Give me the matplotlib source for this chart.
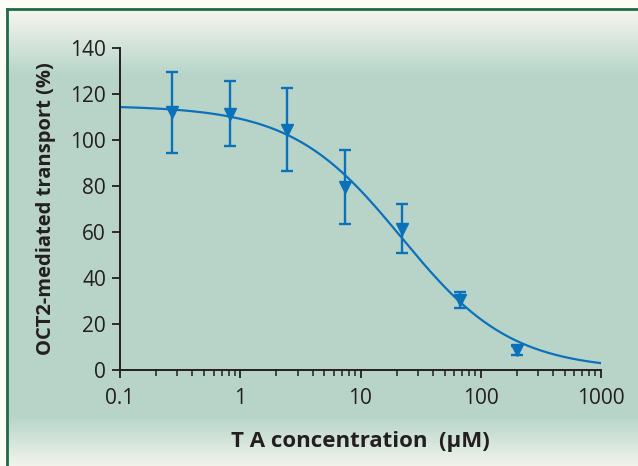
import numpy as np
import matplotlib
matplotlib.use('agg')
import matplotlib.pyplot as plt
from matplotlib.lines import Line2D

# measured points (3-fold dilutions of TA, uM)
conc = [0.27, 0.82, 2.47, 7.4, 22.2, 66.7, 200.0]
transport = [112.0, 111.5, 104.5, 79.5, 61.5, 30.5, 8.5]
err = [17.5, 14.0, 18.0, 16.0, 10.5, 3.5, 2.0]

# fitted dose-response curve parameters
fit_top = 115.0
fit_bottom = 0.0
fit_ic50 = 22.0
fit_hill = 0.95

xticks = [0.1, 1, 10, 100, 1000]
xticklabels = ['0.1', '1', '10', '100', '1000']
yticks = [0, 20, 40, 60, 80, 100, 120, 140]

BLUE = '#0b72b9'
INK = '#231f20'
FONT = ['Open Sans', 'DejaVu Sans']
plt.rcParams['font.family'] = FONT

fig = plt.figure(figsize=(6.38, 4.66), dpi=100, facecolor='#fdfdf6')

# panel background: gradient box with green frame (top and left visible)
x0 = 7 / 638
y1 = (466 - 9) / 466
bg = fig.add_axes([x0, -0.01, 1.02 - x0, y1 + 0.01])
bg.set_axis_off()
h = 462
rows = np.arange(h)
t = np.ones(h)
t[:65] = np.clip(rows[:65] / 65.0, 0, 1)
t[408:] = np.clip(1 - (rows[408:] - 408) / 52.0, 0, 1)
top_c = np.array([0.965, 0.965, 0.935])
mid_c = np.array([0.722, 0.835, 0.792])
grad = top_c[None, :] * (1 - t[:, None]) + mid_c[None, :] * t[:, None]
bg.imshow(grad[:, None, :], aspect='auto', extent=[0, 1, 0, 1], origin='upper')
bg.set_xlim(0, 1)
bg.set_ylim(0, 1)
fig.add_artist(Line2D([x0, 1.01], [y1, y1], color='#1f6b47', lw=2.0))
fig.add_artist(Line2D([x0, x0], [-0.01, y1], color='#1f6b47', lw=2.0))

ax = fig.add_axes([120 / 638, (466 - 370) / 466, 481 / 638, 322 / 466])
ax.patch.set_alpha(0)

xs = np.logspace(-1, 3, 300)
ys = fit_bottom + (fit_top - fit_bottom) / (1 + (xs / fit_ic50) ** fit_hill)
ax.plot(xs, ys, color=BLUE, lw=1.6, zorder=2)
ax.errorbar(conc, transport, yerr=err, fmt='v', color=BLUE, ms=8,
            elinewidth=1.7, capsize=4.5, capthick=1.7, zorder=3)

ax.set_xscale('log')
ax.set_xlim(0.1, 1000)
ax.set_ylim(0, 140)
ax.set_xticks(xticks)
ax.set_xticklabels(xticklabels)
ax.set_yticks(yticks)
for s in ['top', 'right']:
    ax.spines[s].set_visible(False)
for s in ['left', 'bottom']:
    ax.spines[s].set_color(INK)
    ax.spines[s].set_linewidth(1.4)
ax.tick_params(which='major', length=6, width=1.3, color=INK,
               labelsize=15, labelcolor=INK, pad=4)
ax.tick_params(which='minor', length=4, width=1.1, color=INK)
ax.tick_params(axis='x', pad=7)

ax.set_ylabel('OCT2-mediated transport (%)', fontsize=14.5, fontweight='bold',
              color=INK, labelpad=10)
ax.set_xlabel('T A concentration  (\u03bcM)', fontsize=16, fontweight='bold',
              color=INK, labelpad=16)

fig.savefig('out.png', dpi=100, facecolor=fig.get_facecolor())
